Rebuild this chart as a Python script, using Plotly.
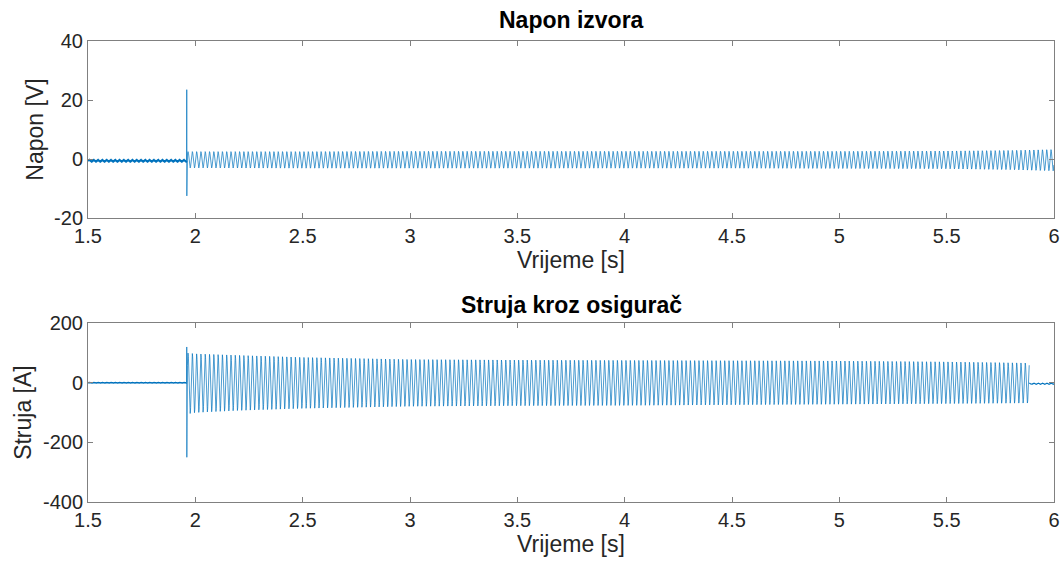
import numpy as np
import plotly.graph_objs as go

# --- values ------------------------------------------------------------
t_start, t_end = 1.5, 6.0
t_fault = 1.96          # s, fault instant (spike)
t_clear = 5.885         # s, fuse clears the current
f_grid = 50.0           # Hz, oscillation frequency

# Napon izvora [V]
napon_pre = -0.6
napon_pre_ripple = 0.35
napon_spike = [23.5, -12.5]
napon_env_t = [1.96, 2.5, 3.0, 3.5, 4.0, 4.5, 5.0, 5.5, 5.8, 6.0]
napon_env_hi = [2.5, 2.5, 2.6, 2.6, 2.6, 2.6, 2.6, 2.7, 2.9, 3.2]
napon_env_lo = [-3.0, -3.1, -3.1, -3.1, -3.1, -3.1, -3.2, -3.3, -3.6, -4.0]

# Struja kroz osigurac [A]
struja_pre = 0.0
struja_pre_ripple = 1.5
struja_spike = [120, -250]
struja_env_t = [1.96, 2.0, 2.2, 2.5, 3.0, 3.5, 4.0, 4.5, 5.0, 5.5, 5.885]
struja_env_hi = [100, 97, 92, 85, 78, 76, 75, 74, 73, 70, 66]
struja_env_lo = [-105, -100, -93, -86, -79, -77, -76, -74, -72, -70, -68]
struja_post = -3.0
struja_post_ripple = 2.5

x_ticks = [1.5, 2, 2.5, 3, 3.5, 4, 4.5, 5, 5.5, 6]
x_labels = ['1.5', '2', '2.5', '3', '3.5', '4', '4.5', '5', '5.5', '6']
napon_ticks = [-20, 0, 20, 40]
napon_labels = ['-20', '0', '20', '40']
struja_ticks = [-400, -200, 0, 200]
struja_labels = ['-400', '-200', '0', '200']

dt = 1 / 2000.0


def wave(t0, t1, env_t, hi, lo):
    t = np.arange(t0, t1, dt)
    h = np.interp(t, env_t, hi)
    l = np.interp(t, env_t, lo)
    y = (h + l) / 2 + (h - l) / 2 * np.sin(2 * np.pi * f_grid * (t - t0))
    return t, y


def flat(t0, t1, level, ripple):
    t = np.arange(t0, t1, dt)
    return t, level + ripple * np.sin(2 * np.pi * f_grid * t)


# voltage
tn0, yn0 = flat(t_start, t_fault, napon_pre, napon_pre_ripple)
tn1, yn1 = wave(t_fault + 0.001, t_end, napon_env_t, napon_env_hi, napon_env_lo)
t_napon = np.concatenate([[t_fault - dt, t_fault, t_fault + 0.0004], tn1])
y_napon = np.concatenate([[napon_pre], napon_spike, yn1])

# current
ts0, ys0 = flat(t_start, t_fault, struja_pre, struja_pre_ripple)
ts1, ys1 = wave(t_fault + 0.001, t_clear, struja_env_t, struja_env_hi, struja_env_lo)
ts2, ys2 = flat(t_clear, t_end, struja_post, struja_post_ripple)
t_struja = np.concatenate([[t_fault - dt, t_fault, t_fault + 0.0004], ts1])
y_struja = np.concatenate([[struja_pre], struja_spike, ys1])

blue = '#0072BD'
data = [
    go.Scatter(x=tn0, y=yn0, mode='lines', xaxis='x', yaxis='y',
               line=dict(color=blue, width=2.2), showlegend=False),
    go.Scatter(x=t_napon, y=y_napon, mode='lines', xaxis='x', yaxis='y',
               line=dict(color=blue, width=0.7), showlegend=False),
    go.Scatter(x=ts0, y=ys0, mode='lines', xaxis='x2', yaxis='y2',
               line=dict(color=blue, width=1.6), showlegend=False),
    go.Scatter(x=t_struja, y=y_struja, mode='lines', xaxis='x2', yaxis='y2',
               line=dict(color=blue, width=0.7), showlegend=False),
    go.Scatter(x=ts2, y=ys2, mode='lines', xaxis='x2', yaxis='y2',
               line=dict(color=blue, width=1.2), showlegend=False),
]

font = dict(family='Liberation Sans, Arial, sans-serif', color='#262626')
axis_style = dict(showline=True, mirror='ticks', linecolor='#808080', linewidth=1,
                  ticks='inside', ticklen=5, tickcolor='#808080', showgrid=False,
                  zeroline=False, tickfont=dict(size=20), automargin=False,
                  ticklabeloverflow='allow')

layout = go.Layout(
    width=1064, height=568,
    margin=dict(l=88, r=10, t=41, b=66),
    paper_bgcolor='white', plot_bgcolor='white',
    font=font,
    xaxis=dict(axis_style, domain=[0, 1], anchor='y', range=[t_start, t_end],
               tickvals=x_ticks, ticktext=x_labels,
               title=dict(text='Vrijeme [s]', font=dict(size=23), standoff=4)),
    yaxis=dict(axis_style, domain=[0.616, 1], anchor='x', range=[-20, 40],
               tickvals=napon_ticks, ticktext=napon_labels,
               title=dict(text='Napon [V]', font=dict(size=23), standoff=4)),
    xaxis2=dict(axis_style, domain=[0, 1], anchor='y2', range=[t_start, t_end],
                tickvals=x_ticks, ticktext=x_labels,
                title=dict(text='Vrijeme [s]', font=dict(size=23), standoff=4)),
    yaxis2=dict(axis_style, domain=[0, 0.388], anchor='x2', range=[-400, 200],
                tickvals=struja_ticks, ticktext=struja_labels,
                title=dict(text='Struja [A]', font=dict(size=23), standoff=4)),
    annotations=[
        dict(text='<b>Napon izvora</b>', x=0.5, y=1.0456, xref='paper', yref='paper',
             showarrow=False, yanchor='middle', font=dict(size=23, color='black')),
        dict(text='<b>Struja kroz osigurač</b>', x=0.5, y=0.427, xref='paper', yref='paper',
             showarrow=False, yanchor='middle', font=dict(size=23, color='black')),
    ],
)

fig = go.Figure(data, layout)
# drop the default 8px page margin so the figure fills the window exactly
fig.write_html('out.html', config={'displayModeBar': False},
               post_script="document.body.style.margin='0';")
